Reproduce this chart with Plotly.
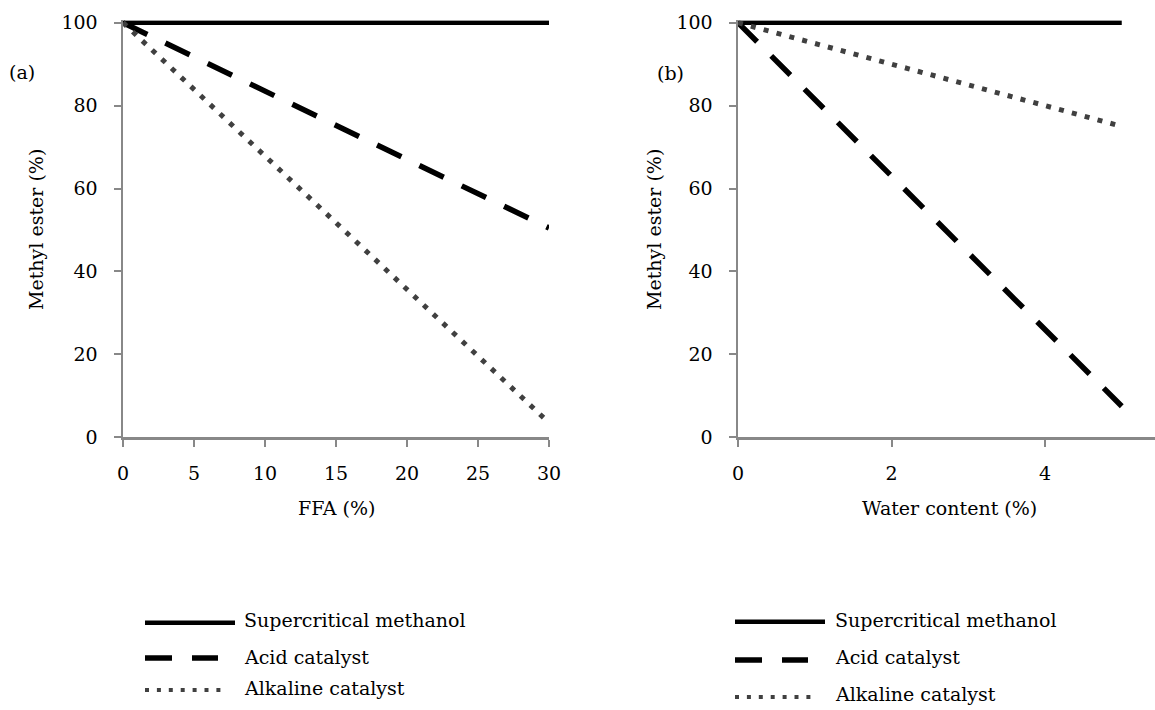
import plotly.graph_objects as go

# ---------------- data ----------------
ffa = [0, 30]
supercritical_a = [100, 100]
acid_a = [100, 50.5]
alkaline_a = [100, 3.5]

water = [0, 5]
supercritical_b = [100, 100]
acid_b = [100, 7.5]
alkaline_b = [100, 75]

series_names = ["Supercritical methanol", "Acid catalyst", "Alkaline catalyst"]
x_ticks_a = [0, 5, 10, 15, 20, 25, 30]
x_ticks_b = [0, 2, 4]
y_ticks = [0, 20, 40, 60, 80, 100]

# ---------------- layout helpers ----------------
W, H = 1155, 710
FONT = "DejaVu Serif"
FS = 19
AXIS_GRAY = "#888888"
DOT_GRAY = "#404040"

def px_x(p):
    return p / W

def px_y(p):
    return 1 - p / H

styles = [
    dict(color="black", width=4.5, dash="solid"),
    dict(color="black", width=5.5, dash="27px,20px"),
    dict(color=DOT_GRAY, width=5, dash="5px,8.3px"),
]

fig = go.Figure()

for xs, ys_list, xa, ya in [
    (ffa, [supercritical_a, acid_a, alkaline_a], "x", "y"),
    (water, [supercritical_b, acid_b, alkaline_b], "x2", "y2"),
]:
    for name, ys, st in zip(series_names, ys_list, styles):
        fig.add_trace(go.Scatter(
            x=xs, y=ys, mode="lines", name=name, showlegend=False,
            line=st, xaxis=xa, yaxis=ya, hoverinfo="skip"))

axis_common = dict(
    showgrid=False, zeroline=False, showline=True, linecolor=AXIS_GRAY,
    linewidth=2.5, ticks="outside", tickcolor=AXIS_GRAY, tickwidth=2,
    ticklen=7, tickfont=dict(family=FONT, size=FS, color="black"),
    automargin=False, fixedrange=True,
)

y_bottom = px_y(437.3)
y_top = px_y(22.7 - 2.5)

fig.update_layout(
    width=W, height=H,
    margin=dict(l=0, r=0, t=0, b=0),
    paper_bgcolor="white", plot_bgcolor="white",
    showlegend=False,
    xaxis=dict(axis_common, domain=[px_x(123), px_x(549)], range=[0, 30],
               tickvals=x_ticks_a, anchor="y", ticklabelstandoff=10),
    yaxis=dict(axis_common, domain=[y_bottom, y_top], range=[0, 100.6],
               tickvals=y_ticks, anchor="x", ticklabelstandoff=12),
    xaxis2=dict(axis_common, domain=[px_x(738), 1.0],
                range=[0, (W - 738) / 76.75],
                tickvals=x_ticks_b, anchor="y2", ticklabelstandoff=10),
    yaxis2=dict(axis_common, domain=[y_bottom, y_top], range=[0, 100.6],
                tickvals=y_ticks, anchor="x2", ticklabelstandoff=12),
)

annotations = []

def text(t, x, y, xanchor="center", angle=0):
    annotations.append(dict(
        text=t, x=px_x(x), y=px_y(y), xref="paper", yref="paper",
        xanchor=xanchor, yanchor="middle", showarrow=False, textangle=angle,
        font=dict(family=FONT, size=FS, color="black")))

# axis titles and panel labels
text("FFA (%)", 336, 508)
text("Water content (%)", 949, 508)
text("Methyl ester (%)", 36, 230, angle=-90)
text("Methyl ester (%)", 654, 230, angle=-90)
text("(a)", 22, 72)
text("(b)", 670, 73)

# custom legends (long sample lines as in the reference)
shapes = []
legend_specs = [
    (145, [(235, 622.7), (218, 658), (228, 690)], 242, [620, 657, 688]),
    (735, [(825, 621.7), (808, 660), (818, 697)], 833, [620, 657, 694]),
]
leg_styles = [
    dict(color="black", width=4.5, dash="solid"),
    dict(color="black", width=5.5, dash="27px,20px"),
    dict(color=DOT_GRAY, width=4, dash="4px,7.9px"),
]
for x0, rows, tx, tys in legend_specs:
    for (x1, yl), st, name, ty in zip(rows, leg_styles, series_names, tys):
        shapes.append(dict(type="line", xref="paper", yref="paper",
                           x0=px_x(x0), x1=px_x(x1), y0=px_y(yl), y1=px_y(yl),
                           line=st))
        text(name, tx, ty, xanchor="left")

fig.update_layout(annotations=annotations, shapes=shapes)

fig.write_html(
    "out.html",
    config={"displayModeBar": False, "staticPlot": True},
    post_script="document.body.style.margin='0';document.body.style.padding='0';document.body.style.overflow='hidden';",
)
